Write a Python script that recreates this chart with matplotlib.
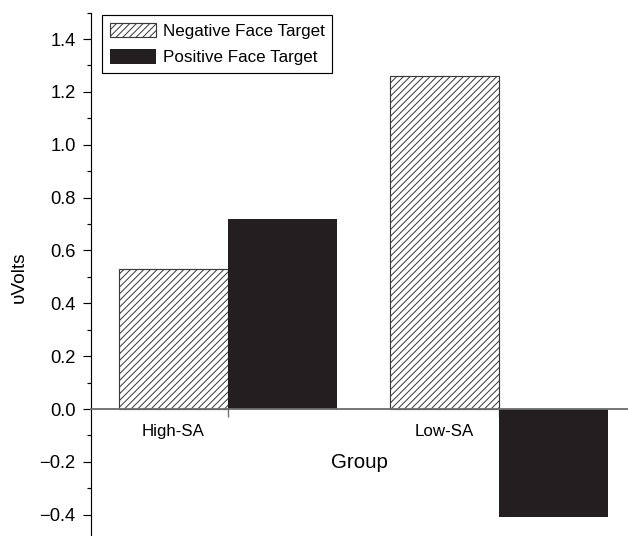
import numpy as np
import matplotlib.pyplot as plt
from matplotlib.ticker import MultipleLocator

plt.rcParams['font.family'] = ['Liberation Sans', 'DejaVu Sans']
plt.rcParams['hatch.linewidth'] = 0.6

groups = ['High-SA', 'Low-SA']
negative_face = [0.53, 1.26]
positive_face = [0.72, -0.41]

x = np.arange(len(groups))
w = 0.402

fig = plt.figure(figsize=(628 / 120, 536 / 120), dpi=120)
ax = fig.add_axes([91 / 628, 0, 537 / 628, (536 - 12.6) / 536])

ax.bar(x - w / 2, negative_face, w, color='white', edgecolor='#3a3a3a',
       hatch='//////', linewidth=0.7, label='Negative Face Target')
ax.bar(x + w / 2, positive_face, w, color='#231f20', edgecolor='#231f20',
       linewidth=0, label='Positive Face Target')

ax.set_xlim(-0.5055, 1.476)
ax.set_ylim(-0.4805, 1.5)
ax.set_axisbelow(True)

# spines: left axis plus a grey baseline through zero
ax.spines['top'].set_visible(False)
ax.spines['right'].set_visible(False)
ax.spines['bottom'].set_position(('data', 0))
ax.spines['bottom'].set_color('#6e6e6e')
ax.spines['bottom'].set_linewidth(1.1)
ax.spines['left'].set_linewidth(0.7)

# y ticks
ax.yaxis.set_major_locator(MultipleLocator(0.2))
ax.yaxis.set_minor_locator(MultipleLocator(0.1))
ax.tick_params(axis='y', which='major', direction='out', length=4.8, width=0.7,
               labelsize=11, pad=4.5)
ax.tick_params(axis='y', which='minor', direction='out', length=2.4, width=0.7)

# x ticks: marks at group centres, names under the hatched bars
ax.set_xticks(x)
ax.set_xticklabels(['', ''])
ax.set_xticks(x - w / 2, minor=True)
ax.set_xticklabels(groups, minor=True)
ax.tick_params(axis='x', which='major', direction='out', length=4.8, width=0.8,
               color='#6e6e6e')
ax.tick_params(axis='x', which='minor', length=0, labelsize=10.1, pad=9)

ax.set_xlabel('Group', fontsize=12.3, va='center')
ax.xaxis.set_label_coords(0.5, 0.1395)
ax.set_ylabel('\u03c5Volts', fontsize=11.5, va='center')
ax.yaxis.set_label_coords(-0.134, 0.495)

leg = ax.legend(loc='upper left', bbox_to_anchor=(0.0205, 0.9954),
                borderaxespad=0, fontsize=10.2, fancybox=False, framealpha=1,
                edgecolor='black', handlelength=2.7, handleheight=0.96,
                handletextpad=0.42, borderpad=0.45, labelspacing=0.6)
leg.get_frame().set_linewidth(0.7)

fig.savefig('out.png', dpi=120)
